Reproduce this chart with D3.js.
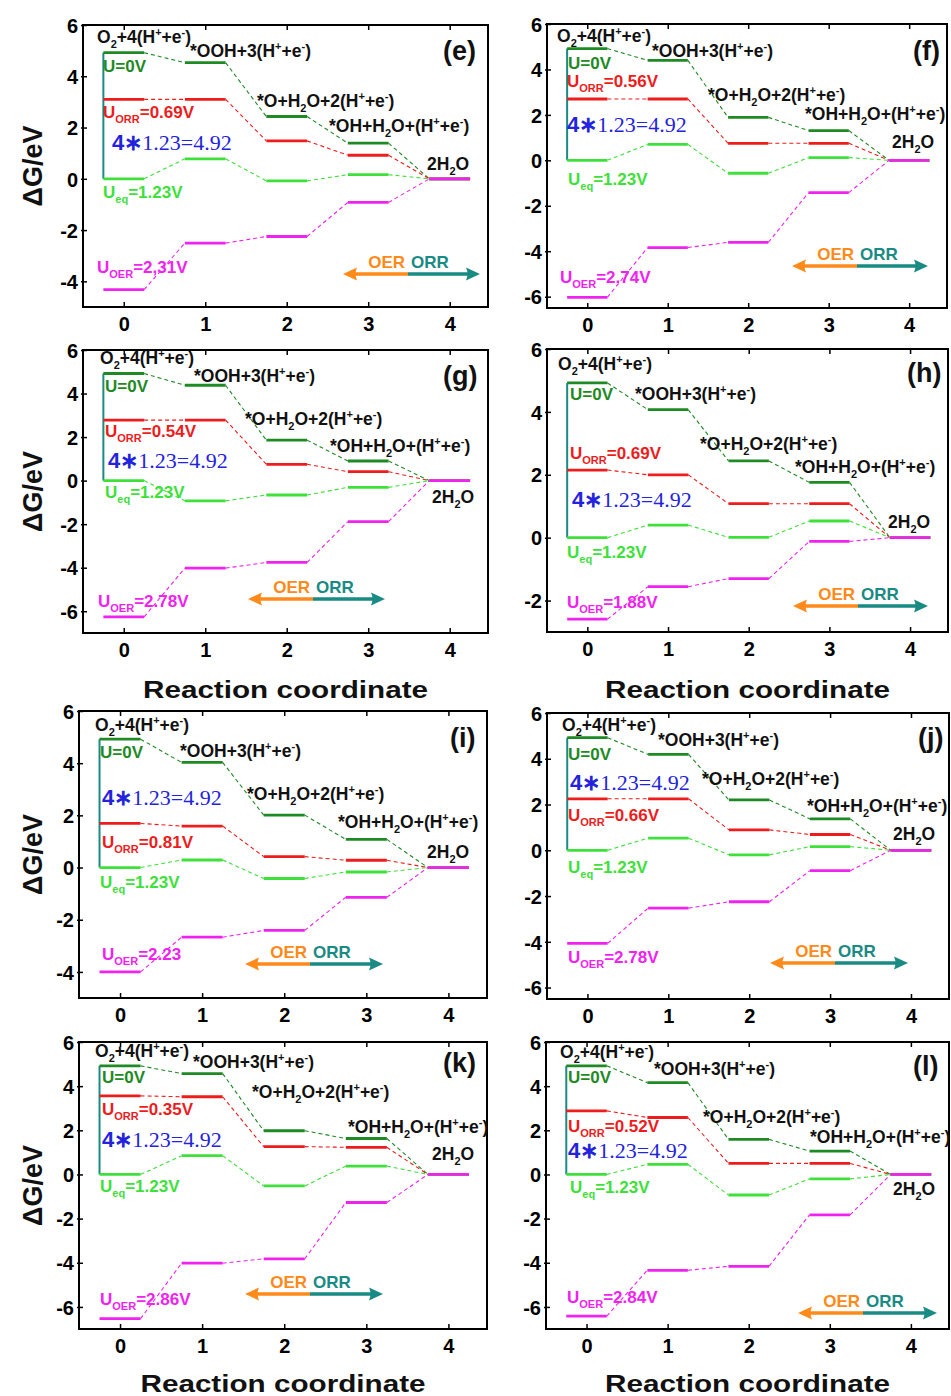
<!DOCTYPE html>
<html><head><meta charset="utf-8">
<script src="https://cdn.jsdelivr.net/npm/d3@7"></script>
<style>body{margin:0;background:#fff}svg{display:block}</style>
</head><body>
<svg id="c" width="951" height="1396"></svg>
<script>
// ---------------- DATA ----------------
const panelLetters = ["(e)","(f)","(g)","(h)","(i)","(j)","(k)","(l)"];
const steps = [0,1,2,3,4];
const xTicks = [0,1,2,3,4];
const stateLabels = ["O_{2}+4(H^{+}+e^{-})","*OOH+3(H^{+}+e^{-})","*O+H_{2}O+2(H^{+}+e^{-})","*OH+H_{2}O+(H^{+}+e^{-})","2H_{2}O"];
// free energies at U = 0 V (dark green)
const gU0 = [
  [4.92,4.53,2.43,1.39,0],[4.92,4.40,1.89,1.31,0],[4.92,4.38,1.86,0.90,0],[4.92,4.07,2.44,1.76,0],
  [4.92,4.03,2.01,1.08,0],[4.92,4.19,2.20,1.37,0],[4.92,4.57,1.98,1.63,0],[4.92,4.16,1.59,1.06,0]];
// at U_ORR (red)
const gOrr = [
  [3.10,3.10,1.48,0.92,0],[2.70,2.70,0.75,0.75,0],[2.78,2.78,0.75,0.41,0],[2.15,2.00,1.08,1.08,0],
  [1.69,1.59,0.42,0.28,0],[2.25,2.25,0.89,0.69,0],[3.56,3.52,1.26,1.23,0],[2.88,2.58,0.50,0.50,0]];
// at U_eq = 1.23 V (light green)
const gEq = [
  [0,0.78,-0.08,0.16,0],[0,0.70,-0.57,0.12,0],[0,-0.93,-0.66,-0.31,0],[0,0.40,0.01,0.53,0],
  [0,0.29,-0.42,-0.17,0],[0,0.53,-0.20,0.16,0],[0,0.85,-0.52,0.38,0],[0,0.46,-0.93,-0.20,0]];
// at U_OER (magenta)
const gOer = [
  [-4.32,-2.51,-2.25,-0.92,0],[-6.03,-3.84,-3.61,-1.42,0],[-6.26,-4.02,-3.76,-1.88,0],[-2.59,-1.56,-1.30,-0.12,0],
  [-4.00,-2.67,-2.41,-1.14,0],[-4.07,-2.53,-2.25,-0.89,0],[-6.53,-4.02,-3.82,-1.27,0],[-6.42,-4.34,-4.16,-1.83,0]];
const uOrrText = ["0.69V","0.56V","0.54V","0.69V","0.81V","0.66V","0.35V","0.52V"];
const uOerText = ["2,31V","2.74V","2.78V","1.88V","2.23","2.78V","2.86V","2.84V"];
const yDomains = [[-5,6],[-6.5,6],[-7,6],[-3,6],[-5,6],[-6.5,6],[-7,6],[-7,6]];
const yTicks = [[-4,-2,0,2,4,6],[-6,-4,-2,0,2,4,6],[-6,-4,-2,0,2,4,6],[-2,0,2,4,6],
                [-4,-2,0,2,4,6],[-6,-4,-2,0,2,4,6],[-6,-4,-2,0,2,4,6],[-6,-4,-2,0,2,4,6]];

// ---------------- LAYOUT ----------------
const frames = [
 {l:83,t:25,r:488,b:307},{l:547,t:24,r:947,b:308},
 {l:83,t:350,r:488,b:633},{l:547,t:349,r:948,b:632},
 {l:79,t:711,r:487,b:998},{l:547,t:713,r:949,b:999},
 {l:79,t:1042,r:487,b:1329},{l:546,t:1042,r:949,b:1329}];
// text anchors relative to frame top-left (px)
const ann = [
 {o2:[14,18],ooh:[107,32],o:[174,82],oh:[246,107],h2o:[344,145],letter:[360,35],u0:[20,47],uorr:[20,93],sum:[29,125],ueq:[20,173],uoer:[14,248],arrow:{y:249,cx:325,left:260,right:397}},
 {o2:[10,18],ooh:[105,33],o:[161,77],oh:[258,96],h2o:[345,124],letter:[366,36],u0:[21,45],uorr:[20,63],sum:[20,108],ueq:[21,161],uoer:[13,259],arrow:{y:242,cx:310,left:245,right:381}},
 {o2:[17,14],ooh:[111,32],o:[162,75],oh:[247,102],h2o:[349,153],letter:[360,35],u0:[22,42],uorr:[22,87],sum:[25,118],ueq:[22,148],uoer:[15,257],arrow:{y:249,cx:230,left:165,right:302}},
 {o2:[11,21],ooh:[88,51],o:[153,101],oh:[248,124],h2o:[341,179],letter:[360,33],u0:[23,51],uorr:[23,110],sum:[25,158],ueq:[20,209],uoer:[20,259],arrow:{y:257,cx:311,left:246,right:381}},
 {o2:[16,20],ooh:[101,46],o:[168,89],oh:[259,117],h2o:[348,147],letter:[371,36],u0:[21,47],uorr:[23,137],sum:[23,94],ueq:[21,177],uoer:[23,249],arrow:{y:253,cx:231,left:166,right:304}},
 {o2:[15,18],ooh:[111,33],o:[155,72],oh:[260,99],h2o:[346,127],letter:[371,34],u0:[21,47],uorr:[21,108],sum:[23,77],ueq:[21,160],uoer:[21,250],arrow:{y:250,cx:288,left:223,right:361}},
 {o2:[16,15],ooh:[114,26],o:[173,56],oh:[269,91],h2o:[353,118],letter:[364,30],u0:[23,41],uorr:[23,73],sum:[23,105],ueq:[21,150],uoer:[21,263],arrow:{y:252,cx:231,left:166,right:304}},
 {o2:[14,16],ooh:[108,33],o:[157,81],oh:[264,101],h2o:[347,153],letter:[367,33],u0:[22,41],uorr:[22,90],sum:[22,116],ueq:[24,151],uoer:[21,261],arrow:{y:271,cx:317,left:252,right:391}}];

const C = {u0:"#1f8a24", orr:"#ee1c1c", eq:"#3ee03a", oer:"#f022f0", teal:"#1a8a84", orange:"#ff8a1a", blue:"#2323dd"};
const SANS = "'Liberation Sans', Arial, sans-serif";
const SERIF = "'Liberation Serif', 'Times New Roman', serif";

const svg = d3.select("#c");

// rich text helper: _{..} subscript, ^{..} superscript
function rich(sel, str, size, color, x, y) {
  const t = sel.append("text").attr("x", x).attr("y", y)
    .attr("font-family", SANS).attr("font-weight", "bold").attr("font-size", size).attr("fill", color);
  const parts = str.split(/(_\{[^}]*\}|\^\{[^}]*\})/).filter(s => s.length);
  const small = Math.round(size * 0.62);
  let pending = 0;
  parts.forEach(p => {
    if (p.startsWith("_{")) {
      t.append("tspan").attr("dy", pending + size*0.3).attr("font-size", small).text(p.slice(2,-1));
      pending = -size*0.3;
    } else if (p.startsWith("^{")) {
      t.append("tspan").attr("dy", pending - size*0.38).attr("font-size", small).text(p.slice(2,-1));
      pending = size*0.38;
    } else {
      t.append("tspan").attr("dy", pending).text(p);
      pending = 0;
    }
  });
  return t;
}

panelLetters.forEach((letter, i) => {
  const f = frames[i], a = ann[i];
  const g = svg.append("g");
  const x = d3.scaleLinear().domain([-0.5, 4.47]).range([f.l, f.r]);
  const y = d3.scaleLinear().domain(yDomains[i]).range([f.b, f.t]);
  const P = (p) => [f.l + p[0], f.t + p[1]];

  const series = [
    {v: gU0[i], c: C.u0}, {v: gOrr[i], c: C.orr}, {v: gEq[i], c: C.eq}, {v: gOer[i], c: C.oer}];

  // dashed connectors
  series.forEach(s => {
    g.selectAll(null).data(steps.slice(0, -1)).join("line")
      .attr("x1", n => x(n + 0.25)).attr("y1", n => y(s.v[n]))
      .attr("x2", n => x(n + 0.75)).attr("y2", n => y(s.v[n + 1]))
      .attr("stroke", s.c).attr("stroke-width", 1.1).attr("stroke-dasharray", "4,3");
  });
  // bracket (4*1.23 = 4.92)
  g.append("line").attr("x1", x(-0.25)).attr("x2", x(-0.25))
    .attr("y1", y(0)).attr("y2", y(gU0[i][0]))
    .attr("stroke", C.teal).attr("stroke-width", 2);
  // levels
  series.forEach(s => {
    g.selectAll(null).data(steps).join("line")
      .attr("x1", n => x(n - 0.25)).attr("x2", n => x(n + 0.25))
      .attr("y1", n => y(s.v[n])).attr("y2", n => y(s.v[n]))
      .attr("stroke", s.c).attr("stroke-width", 2.8);
  });

  // axes
  const ax = g.append("g").attr("transform", `translate(0,${f.b})`)
    .call(d3.axisBottom(x).tickValues(xTicks).tickSizeInner(-5).tickSizeOuter(0).tickPadding(10).tickFormat(d => String(d)));
  const axT = g.append("g").attr("transform", `translate(0,${f.t})`)
    .call(d3.axisTop(x).tickValues(xTicks).tickSizeInner(-5).tickSizeOuter(0).tickFormat(() => null));
  axT.selectAll(".tick text").remove();
  const ay = g.append("g").attr("transform", `translate(${f.l},0)`)
    .call(d3.axisLeft(y).tickValues(yTicks[i]).tickSizeInner(-4).tickSizeOuter(0).tickPadding(5).tickFormat(d => String(d)));
  [ax, axT, ay].forEach(s => {
    s.select(".domain").remove();
    s.selectAll(".tick line").attr("stroke", "#000").attr("stroke-width", 1.5);
    s.selectAll("text").attr("font-family", SANS).attr("font-weight", "bold").attr("font-size", 20).attr("fill", "#000");
  });
  ax.selectAll("text").attr("dy", "0.71em");
  ay.selectAll("text").attr("dy", "0.36em");
  ay.selectAll(".tick").append("line").attr("x1", 0).attr("x2", -2).attr("stroke", "#000").attr("stroke-width", 1.5);

  g.append("rect").attr("x", f.l).attr("y", f.t).attr("width", f.r - f.l).attr("height", f.b - f.t)
    .attr("fill", "none").attr("stroke", "#000").attr("stroke-width", 2);

  // state labels
  const keys = ["o2","ooh","o","oh","h2o"];
  keys.forEach((k, j) => { const p = P(a[k]); rich(g, stateLabels[j], 17.5, "#111", p[0], p[1]); });
  // panel letter
  { const p = P(a.letter); g.append("text").attr("x", p[0]).attr("y", p[1]).attr("font-family", SANS)
      .attr("font-weight", "bold").attr("font-size", 27).attr("fill", "#111").text(letter); }
  // potential labels
  { const p = P(a.u0); rich(g, "U=0V", 17, C.u0, p[0], p[1]); }
  { const p = P(a.uorr); rich(g, "U_{ORR}=" + uOrrText[i], 17, C.orr, p[0], p[1]); }
  { const p = P(a.ueq); rich(g, "U_{eq}=1.23V", 17, C.eq, p[0], p[1]); }
  { const p = P(a.uoer); rich(g, "U_{OER}=" + uOerText[i], 17, C.oer, p[0], p[1]); }
  { const p = P(a.sum);
    const t = g.append("text").attr("x", p[0]).attr("y", p[1]).attr("fill", C.blue).attr("font-size", 22);
    t.append("tspan").attr("font-family", SANS).attr("font-weight", "bold").text("4\u2217");
    t.append("tspan").attr("font-family", SERIF).text("1.23=4.92"); }

  // OER / ORR arrows
  const ar = a.arrow, ay0 = f.t + ar.y, cx = f.l + ar.cx, lx = f.l + ar.left, rx = f.l + ar.right;
  const hl = 14, hw = 6.5;
  g.append("line").attr("x1", cx).attr("x2", lx + hl - 2).attr("y1", ay0).attr("y2", ay0).attr("stroke", C.orange).attr("stroke-width", 3.5);
  g.append("path").attr("d", `M${lx},${ay0} L${lx+hl},${ay0-hw} Q${lx+hl-3},${ay0} ${lx+hl},${ay0+hw} Z`).attr("fill", C.orange);
  g.append("line").attr("x1", cx).attr("x2", rx - hl + 2).attr("y1", ay0).attr("y2", ay0).attr("stroke", C.teal).attr("stroke-width", 3.5);
  g.append("path").attr("d", `M${rx},${ay0} L${rx-hl},${ay0-hw} Q${rx-hl+3},${ay0} ${rx-hl},${ay0+hw} Z`).attr("fill", C.teal);
  g.append("text").attr("x", cx - 3).attr("y", ay0 - 6).attr("text-anchor", "end").attr("font-family", SANS)
    .attr("font-weight", "bold").attr("font-size", 17).attr("fill", C.orange).text("OER");
  g.append("text").attr("x", cx + 3).attr("y", ay0 - 6).attr("text-anchor", "start").attr("font-family", SANS)
    .attr("font-weight", "bold").attr("font-size", 17).attr("fill", C.teal).text("ORR");

  // y-axis title (left column only)
  if (i % 2 === 0) {
    svg.append("text").attr("transform", `translate(42,${(f.t + f.b) / 2}) rotate(-90)`)
      .attr("text-anchor", "middle").attr("font-family", SANS).attr("font-weight", "bold")
      .attr("font-size", 27).attr("fill", "#111").text("\u0394G/eV");
  }
  // x-axis title (rows 2 and 4)
  if (i === 2 || i === 3 || i === 6 || i === 7) {
    const base = (i < 4) ? 698 : 1392;
    svg.append("text").attr("x", (f.l + f.r) / 2).attr("y", base).attr("text-anchor", "middle")
      .attr("font-family", SANS).attr("font-weight", "bold").attr("font-size", 24).attr("fill", "#111")
      .attr("textLength", 285).attr("lengthAdjust", "spacingAndGlyphs").text("Reaction coordinate");
  }
});
</script>
</body></html>
